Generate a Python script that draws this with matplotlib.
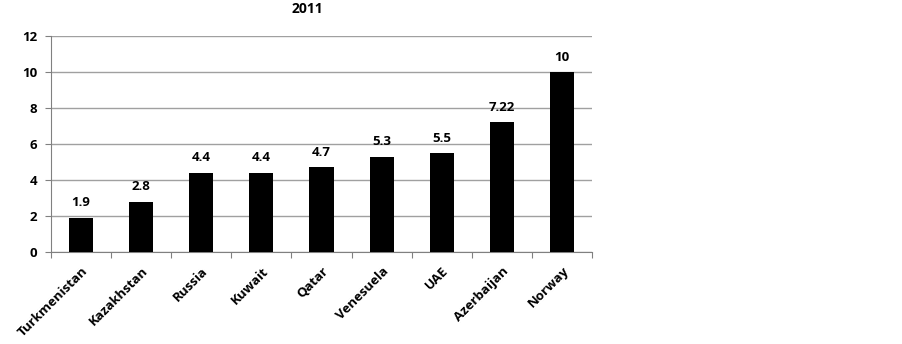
import matplotlib
matplotlib.use("Agg")
import matplotlib.pyplot as plt
import numpy as np

categories = ["Turkmenistan", "Kazakhstan", "Russia", "Kuwait", "Qatar",
              "Venesuela", "UAE", "Azerbaijan", "Norway"]
values = [1.9, 2.8, 4.4, 4.4, 4.7, 5.3, 5.5, 7.22, 10]
value_labels = ["1.9", "2.8", "4.4", "4.4", "4.7", "5.3", "5.5", "7.22", "10"]
yticks = [0, 2, 4, 6, 8, 10, 12]
title = "2011"

plt.rcParams['font.family'] = ['Open Sans', 'DejaVu Sans']
plt.rcParams['font.weight'] = 'bold'

fig = plt.figure(figsize=(9.03, 3.44), dpi=100)
W, H = 903, 344
left, right, top, bottom = 51, 592, 36, 252
ax = fig.add_axes([left / W, 1 - bottom / H, (right - left) / W, (bottom - top) / H])

x = np.arange(len(categories))
ax.bar(x, values, width=0.4, color='black', zorder=3)
for xi, v, lab in zip(x, values, value_labels):
    ax.annotate(lab, (xi, v), xytext=(0, 6), textcoords='offset points',
                ha='center', va='bottom', fontsize=9.5, fontweight='bold')

ax.set_xlim(-0.5, len(categories) - 0.5)
ax.set_ylim(0, 12)
ax.set_yticks(yticks)
ax.set_yticklabels([str(t) for t in yticks], fontsize=9.5, fontweight='bold')
ax.yaxis.grid(True, color='#a0a0a0', linewidth=1, zorder=0)
ax.set_axisbelow(True)

ax.set_xticks(np.arange(len(categories) + 1) - 0.5)
ax.set_xticklabels([])
ax.set_xticks(x, minor=True)
ax.set_xticklabels(categories, minor=True, rotation=45, ha='right',
                   rotation_mode='anchor', fontsize=9.5, fontweight='bold')
ax.tick_params(axis='x', which='minor', length=0, pad=9)
ax.tick_params(axis='x', which='major', length=4, color='#808080')
ax.tick_params(axis='y', length=4, color='#808080', pad=6)

for s in ['top', 'right']:
    ax.spines[s].set_visible(False)
ax.spines['left'].set_color('#808080')
ax.spines['bottom'].set_color('#808080')

fig.text(307 / W, 1 - 9 / H, title, ha='center', va='center', fontsize=10, fontweight='bold')

fig.savefig("out.png", dpi=100)
